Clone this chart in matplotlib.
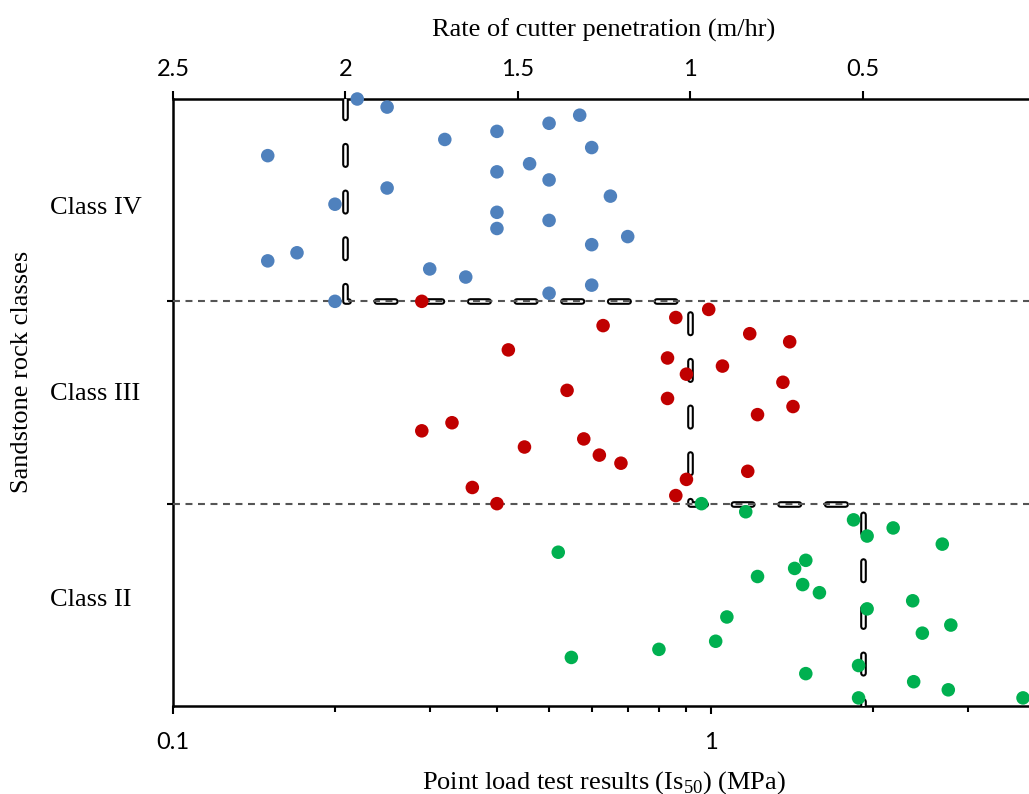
import numpy as np
import matplotlib
matplotlib.use('Agg')
import matplotlib.pyplot as plt
from matplotlib.ticker import FixedLocator, NullFormatter, FuncFormatter, LogLocator

# Point load test (Is50, MPa) per sandstone class, listed from top to bottom of each band
blue_is50 = [0.22, 0.25, 0.57, 0.50, 0.40, 0.32, 0.60, 0.15, 0.46, 0.40, 0.50, 0.25, 0.65,
             0.20, 0.40, 0.50, 0.40, 0.70, 0.60, 0.17, 0.15, 0.30, 0.35, 0.60, 0.50, 0.20]
blue_y = [3.00, 2.96, 2.92, 2.88, 2.84, 2.80, 2.76, 2.72, 2.68, 2.64, 2.60, 2.56, 2.52,
          2.48, 2.44, 2.40, 2.36, 2.32, 2.28, 2.24, 2.20, 2.16, 2.12, 2.08, 2.04, 2.00]

red_is50 = [0.29, 0.99, 0.86, 0.63, 1.18, 1.40, 0.42, 0.83, 1.05, 0.90, 1.36, 0.54, 0.83,
            1.42, 1.22, 0.33, 0.29, 0.58, 0.45, 0.62, 0.68, 1.17, 0.90, 0.36, 0.86, 0.40]
red_y = [2.00, 1.96, 1.92, 1.88, 1.84, 1.80, 1.76, 1.72, 1.68, 1.64, 1.60, 1.56, 1.52,
         1.48, 1.44, 1.40, 1.36, 1.32, 1.28, 1.24, 1.20, 1.16, 1.12, 1.08, 1.04, 1.00]

green_is50 = [0.96, 1.16, 1.84, 2.18, 1.95, 2.69, 0.52, 1.50, 1.43, 1.22, 1.48, 1.59, 2.37,
              1.95, 1.07, 2.79, 2.47, 1.02, 0.80, 0.55, 1.88, 1.50, 2.38, 2.76, 1.88, 3.80]
green_y = [1.00, 0.96, 0.92, 0.88, 0.84, 0.80, 0.76, 0.72, 0.68, 0.64, 0.60, 0.56, 0.52,
           0.48, 0.44, 0.40, 0.36, 0.32, 0.28, 0.24, 0.20, 0.16, 0.12, 0.08, 0.04, 0.04]

# Rate of cutter penetration (m/hr) step line vs class
rate_steps = [2, 2, 1, 1, 0.5, 0.5]
class_steps = [3, 2, 2, 1, 1, 0]
class_bounds = [1, 2]
class_names = ['Class IV', 'Class III', 'Class II']
class_label_y = [2.43, 1.513, 0.494]
rate_ticks = [2.5, 2, 1.5, 1, 0.5]

plt.rcParams['lines.scale_dashes'] = False
plt.rcParams['mathtext.fontset'] = 'custom'
plt.rcParams['mathtext.rm'] = 'Liberation Serif'
serif = 'Liberation Serif'
tickfont = 'Lato'

fig = plt.figure(figsize=(10.29, 7.94), dpi=100)
ax = fig.add_axes([173 / 1029, 88 / 794, 862 / 1029, 607 / 794])
ax2 = ax.twiny()

# top axis: penetration rate (linear, reversed)
ax.set_xlim(2.5, 0)
ax.set_ylim(0, 3)
ax.plot(rate_steps, class_steps, color='black', lw=4.8, dashes=(13.3, 20.3),
        dash_capstyle='round', solid_capstyle='round', zorder=2)
ax.plot(rate_steps, class_steps, color='white', lw=1.8, dashes=(13.3, 20.3),
        dash_capstyle='round', solid_capstyle='round', zorder=3)
for b in class_bounds:
    ax.axhline(b, color='#555555', lw=1.5, dashes=(5, 4), zorder=4)

ax.xaxis.tick_top()
ax.xaxis.set_label_position('top')
ax.set_xticks(rate_ticks)
ax.set_xticklabels(['2.5', '2', '1.5', '1', '0.5'], fontfamily=tickfont, fontsize=17)
ax.tick_params(axis='x', direction='out', length=6, width=1.5, pad=8)
ax.set_yticks(class_bounds)
ax.set_yticklabels([])
ax.tick_params(axis='y', direction='out', length=4, width=1.5)
ax.set_xlabel('Rate of cutter penetration (m/hr)', fontfamily=serif, fontsize=19, labelpad=16)
for s in ['left', 'top', 'bottom']:
    ax.spines[s].set_linewidth(1.8)
ax.spines['right'].set_visible(False)

# bottom axis: point load test (log)
ax2.set_xscale('log')
ax2.set_xlim(0.1, 4)
ax2.xaxis.tick_bottom()
ax2.xaxis.set_label_position('bottom')
for s in ax2.spines.values():
    s.set_visible(False)
ax2.xaxis.set_major_locator(FixedLocator([0.1, 1]))
ax2.xaxis.set_major_formatter(FuncFormatter(lambda v, p: '0.1' if v < 0.5 else '1'))
ax2.xaxis.set_minor_locator(LogLocator(base=10, subs=np.arange(2, 10)))
ax2.xaxis.set_minor_formatter(NullFormatter())
ax2.tick_params(axis='x', which='major', direction='out', length=6, width=1.5, pad=13)
ax2.tick_params(axis='x', which='minor', direction='out', length=4, width=1.5)
for t in ax2.get_xticklabels():
    t.set_fontfamily(tickfont)
    t.set_fontsize(17)
ax2.set_xlabel('Point load test results (Is$_{50}$) (MPa)', fontfamily=serif, fontsize=19, labelpad=11)

ax2.scatter(blue_is50, blue_y, s=95, color='#4F81BD', edgecolors='none', zorder=5, clip_on=False)
ax2.scatter(red_is50, red_y, s=95, color='#C00000', edgecolors='none', zorder=5, clip_on=False)
ax2.scatter(green_is50, green_y, s=95, color='#00B050', edgecolors='none', zorder=5, clip_on=False)

# class names and y label (baseline positions in data units of the class axis)
for name, yv in zip(class_names, class_label_y):
    fig.text(50 / 1029, (88 + yv * 607 / 3) / 794, name,
             fontfamily=serif, fontsize=19, ha='left', va='baseline')
fig.text(22 / 1029, (794 - 372) / 794, 'Sandstone rock classes', rotation=90,
         fontfamily=serif, fontsize=19, ha='center', va='center')

fig.savefig('out.png', dpi=100)
